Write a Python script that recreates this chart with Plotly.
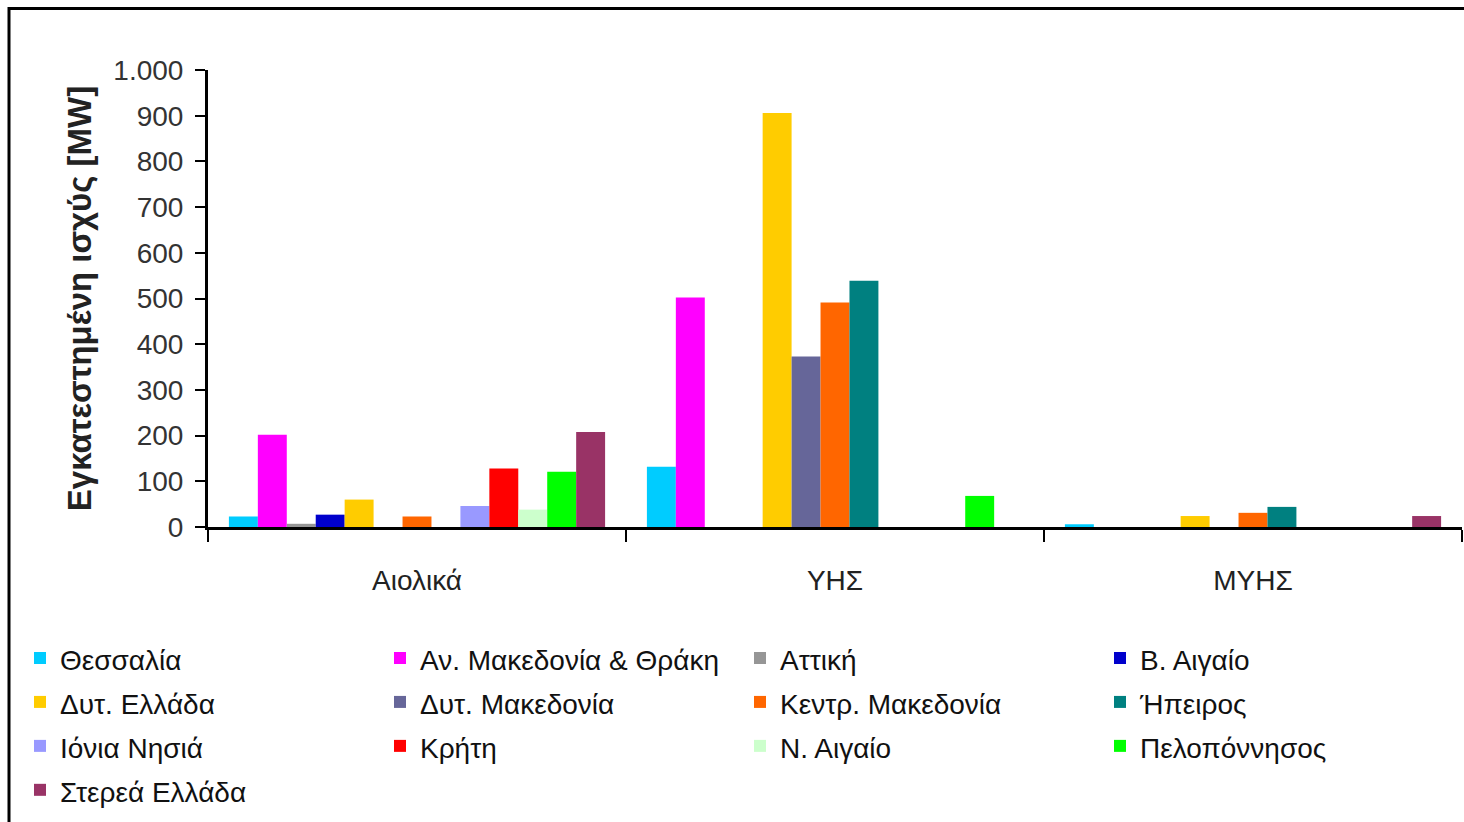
import plotly.graph_objects as go

categories = ["Αιολικά", "ΥΗΣ", "ΜΥΗΣ"]
regions = ["Θεσσαλία", "Αν. Μακεδονία & Θράκη", "Αττική", "Β. Αιγαίο",
           "Δυτ. Ελλάδα", "Δυτ. Μακεδονία", "Κεντρ. Μακεδονία", "Ήπειρος",
           "Ιόνια Νησιά", "Κρήτη", "Ν. Αιγαίο", "Πελοπόννησος", "Στερεά Ελλάδα"]
colors = ["#00CCFF", "#FF00FF", "#969696", "#0000CC",
          "#FFCC00", "#666699", "#FF6600", "#008080",
          "#9999FF", "#FF0000", "#CCFFCC", "#00FF00", "#993366"]

thessalia = [23, 132, 6]
an_makedonia = [202, 502, 0]
attiki = [7, 0, 0]
v_aigaio = [27, 0, 0]
dyt_ellada = [60, 906, 24]
dyt_makedonia = [0, 373, 0]
kentr_makedonia = [23, 491, 31]
ipeiros = [0, 539, 44]
ionia = [46, 0, 0]
kriti = [128, 0, 0]
n_aigaio = [38, 0, 0]
peloponnisos = [121, 68, 0]
sterea = [208, 0, 24]

series = [thessalia, an_makedonia, attiki, v_aigaio, dyt_ellada, dyt_makedonia,
          kentr_makedonia, ipeiros, ionia, kriti, n_aigaio, peloponnisos, sterea]

y_tickvals = [0, 100, 200, 300, 400, 500, 600, 700, 800, 900, 1000]
y_ticktext = ["0", "100", "200", "300", "400", "500", "600", "700", "800", "900", "1.000"]

FONT = "Liberation Sans Narrow, Arial Narrow, Liberation Sans, Arial, sans-serif"

fig = go.Figure()
for name, vals, col in zip(regions, series, colors):
    fig.add_trace(go.Bar(
        x=categories, y=vals,
        name='<span style="font-size:28px">' + name + '</span>',
        marker=dict(color=col, line=dict(width=0))))

W, H = 1464, 822
L, R, T, B = 208, 2, 70, 295
pw, ph = W - L - R, H - T - B

def px_x(p):
    return (p - L) / pw

def px_y(p):
    return (H - B - p) / ph

fig.update_layout(
    width=W, height=H,
    margin=dict(l=L, r=R, t=T, b=B),
    paper_bgcolor="white", plot_bgcolor="white",
    barmode="group", bargap=0.1, bargroupgap=0,
    font=dict(family=FONT, size=24, color="#222"),
    showlegend=True,
    legend=dict(orientation="h", xref="paper", yref="paper",
                x=px_x(20), y=px_y(631), xanchor="left", yanchor="top",
                entrywidth=315, entrywidthmode="pixels",
                font=dict(family=FONT, size=31.5, color="#111"),
                traceorder="normal", bgcolor="rgba(0,0,0,0)"),
    xaxis=dict(showline=True, linecolor="black", linewidth=3,
               ticks="outside", tickson="boundaries", ticklen=12,
               tickwidth=2, tickcolor="black",
               ticklabelstandoff=26,
               tickfont=dict(family=FONT, size=28, color="#222"),
               showgrid=False, zeroline=False),
    yaxis=dict(range=[0, 1000], showline=True, linecolor="black", linewidth=3,
               ticks="outside", ticklen=10, tickwidth=2, tickcolor="black",
               ticklabelstandoff=6,
               tickvals=y_tickvals, ticktext=y_ticktext,
               tickfont=dict(family=FONT, size=28, color="#333"),
               showgrid=False, zeroline=False,
               title=dict(text="<b>Εγκατεστημένη ισχύς [MW]</b>",
                          font=dict(family=FONT, size=33, color="#222"),
                          standoff=12)),
)

# outer frame (top and left edges visible)
fig.add_shape(type="line", xref="paper", yref="paper",
              x0=px_x(9), x1=px_x(1470), y0=px_y(8.5), y1=px_y(8.5),
              line=dict(color="black", width=3))
fig.add_shape(type="line", xref="paper", yref="paper",
              x0=px_x(9), x1=px_x(9), y0=px_y(7), y1=px_y(830),
              line=dict(color="black", width=3))

fig.write_html("out.html", config={"displayModeBar": False},
               post_script="document.body.style.margin='0';")
